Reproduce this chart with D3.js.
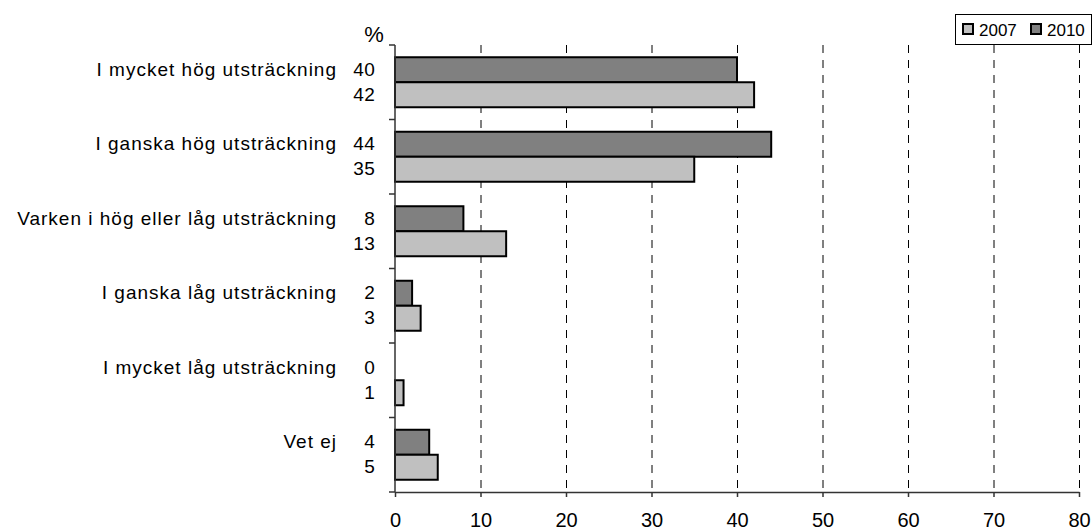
<!DOCTYPE html>
<html><head><meta charset="utf-8">
<script src="https://cdn.jsdelivr.net/npm/d3@7"></script>
<style>
html,body{margin:0;padding:0;background:#fff;}
svg{display:block;}
svg text{font-family:Arial,"Liberation Sans",Helvetica,sans-serif;}
</style></head>
<body>
<svg id="chart" width="1092" height="531"></svg>
<script>
const categories = ["I mycket hög utsträckning","I ganska hög utsträckning","Varken i hög eller låg utsträckning","I ganska låg utsträckning","I mycket låg utsträckning","Vet ej"];
const series = ["2010","2007"];
const values2010 = [40,44,8,2,0,4];
const values2007 = [42,35,13,3,1,5];
const xTicks = [0,10,20,30,40,50,60,70,80];
const legendLabels = ["2007","2010"];
const colors = {"2010":"#808080","2007":"#c0c0c0"};

(function(){
const svg = d3.select("#chart");
const pLeft = 395, pRight = 1079, pTop = 45, pBottom = 492;

const x = d3.scaleLinear().domain([0,80]).range([pLeft,pRight]);
const y = d3.scaleBand().domain(categories).range([pTop,pBottom]).padding(0);
const ySub = d3.scaleBand().domain(series).range([0,y.bandwidth()]).paddingInner(0).paddingOuter(0.49);

// gridlines
svg.append("g").selectAll("line").data(xTicks.filter(d=>d>0)).join("line")
  .attr("x1",d=>x(d)+0.5).attr("x2",d=>x(d)+0.5)
  .attr("y1",pTop).attr("y2",pBottom)
  .attr("stroke","#000").attr("stroke-width",1).attr("stroke-dasharray","8,7");

// bars
const rows = categories.map((c,i)=>({cat:c, "2010":values2010[i], "2007":values2007[i]}));
const g = svg.append("g");
rows.forEach(r=>{
  series.forEach(s=>{
    if (r[s] > 0) {
      g.append("rect")
        .attr("x",x(0)).attr("y",y(r.cat)+ySub(s))
        .attr("width",x(r[s])-x(0)).attr("height",ySub.bandwidth())
        .attr("fill",colors[s]).attr("stroke","#000").attr("stroke-width",2);
    }
    svg.append("text")
      .attr("x",375).attr("y",y(r.cat)+ySub(s)+ySub.bandwidth()/2 - 1)
      .attr("dy","0.36em").attr("text-anchor","end")
      .attr("font-size",19).attr("letter-spacing","0.3px")
      .text(r[s]);
  });
  svg.append("text")
    .attr("x",337).attr("y",y(r.cat)+ySub("2010")+ySub.bandwidth()/2 - 1)
    .attr("dy","0.36em").attr("text-anchor","end")
    .attr("font-size",19).attr("letter-spacing","1px")
    .text(r.cat);
});

// y axis
const yAxis = svg.append("g");
yAxis.append("line").attr("x1",pLeft).attr("x2",pLeft).attr("y1",pTop).attr("y2",pBottom)
  .attr("stroke","#333").attr("stroke-width",1.5);
yAxis.selectAll("line.t").data(categories.map(c=>y(c)).concat([pBottom])).join("line")
  .attr("class","t").attr("x1",389).attr("x2",pLeft).attr("y1",d=>d).attr("y2",d=>d)
  .attr("stroke","#333").attr("stroke-width",1.5);

// x axis
const xAxis = svg.append("g").attr("transform",`translate(0,${pBottom})`)
  .call(d3.axisBottom(x).tickValues(xTicks).tickSize(5).tickPadding(19).tickSizeOuter(0));
xAxis.attr("font-family",null);
xAxis.select(".domain").attr("stroke","#333").attr("stroke-width",1.5);
xAxis.selectAll(".tick line").attr("stroke","#333").attr("stroke-width",1.5);
xAxis.selectAll(".tick text").attr("font-size",20).attr("fill","#000")
  .attr("dy","0").attr("y",35);

// % label
svg.append("text").attr("x",374).attr("y",42).attr("text-anchor","middle")
  .attr("font-size",22).text("%");

// legend
const lg = svg.append("g");
lg.append("rect").attr("x",955.5).attr("y",14.5).attr("width",136).attr("height",30)
  .attr("fill","#fff").attr("stroke","#000").attr("stroke-width",1);
const legX = [963,1031];
legendLabels.forEach((s,i)=>{
  lg.append("rect").attr("x",legX[i]).attr("y",24).attr("width",10).attr("height",10)
    .attr("fill",colors[s]).attr("stroke","#000").attr("stroke-width",2);
  lg.append("text").attr("x",legX[i]+16).attr("y",35.5).attr("font-size",17).text(s);
});
})();
</script>
</body></html>
